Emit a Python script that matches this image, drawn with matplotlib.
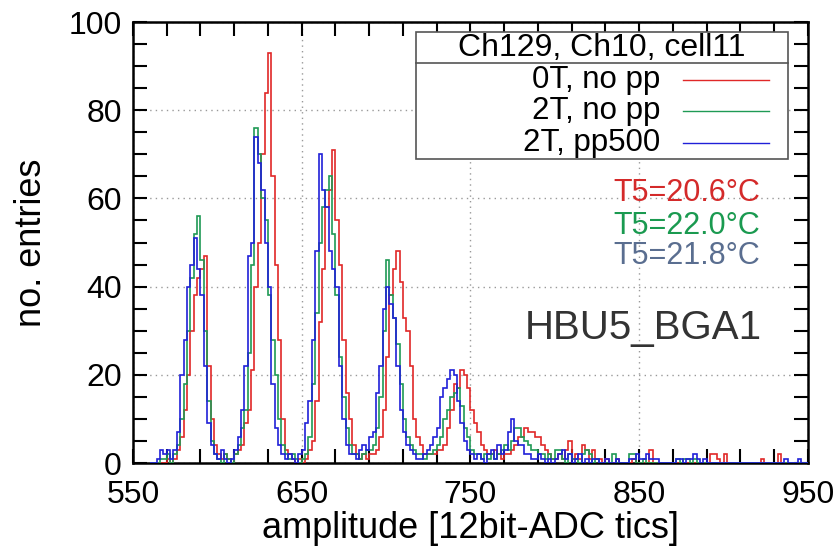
import numpy as np
import matplotlib.pyplot as plt
from matplotlib.ticker import MultipleLocator
from matplotlib.patches import Rectangle

plt.rcParams['font.family'] = ['Liberation Sans', 'DejaVu Sans']

# histogram bins: 2 ADC tics wide, 560 .. 950
edges = np.arange(560, 952, 2)

red_counts = [
    0, 0, 0, 0, 0, 1, 0, 1, 3, 6,            # 560-578
    12, 20, 30, 38, 42, 44, 47, 22, 10, 4,   # 580-598
    2, 1, 2, 1, 0, 2, 3, 4, 9, 12,           # 600-618
    21, 40, 50, 70, 84, 93, 65, 45, 28, 10,  # 620-638
    3, 2, 1, 0, 1, 0, 1, 3, 5, 14,           # 640-658
    32, 44, 58, 62, 71, 55, 45, 28, 16, 10,  # 660-678
    4, 2, 1, 2, 1, 2, 2, 3, 6, 12,           # 680-698
    24, 38, 44, 48, 41, 33, 30, 22, 10, 6,   # 700-718
    4, 2, 2, 2, 2, 3, 3, 4, 8, 12,           # 720-738
    18, 17, 21, 20, 17, 12, 9, 7, 4, 3,      # 740-758
    2, 2, 3, 2, 1, 2, 2, 3, 4, 6,            # 760-778
    6, 8, 7, 7, 6, 6, 4, 3, 2, 1,            # 780-798
    1, 2, 1, 3, 5, 1, 2, 1, 4, 3,            # 800-818
    1, 3, 1, 1, 0, 1, 0, 0, 1, 0,            # 820-838
    0, 0, 0, 1, 0, 0, 0, 0, 3, 0,            # 840-858
    0, 0, 0, 0, 0, 0, 0, 0, 0, 0,            # 860-878
    0, 0, 0, 0, 0, 0, 2, 2, 1, 0,            # 880-898
    2, 0, 0, 0, 0, 0, 0, 0, 0, 0,            # 900-918
    0, 1, 0, 0, 0, 0, 2, 0, 0, 0,            # 920-938
    0, 0, 0, 0, 0,                           # 940-948
]

green_counts = [
    0, 0, 0, 1, 1, 2, 0, 2, 4, 10,
    18, 30, 42, 52, 56, 46, 30, 14, 5, 2,
    1, 0, 2, 1, 0, 2, 4, 8, 12, 25,
    45, 76, 70, 60, 55, 38, 28, 20, 10, 4,
    2, 1, 2, 1, 0, 1, 2, 6, 18, 34,
    50, 58, 62, 65, 52, 38, 24, 15, 8, 4,
    2, 2, 1, 2, 3, 3, 4, 8, 15, 30,
    46, 38, 33, 27, 18, 10, 6, 4, 3, 2,
    2, 1, 2, 2, 3, 4, 6, 10, 12, 15,
    16, 17, 13, 8, 6, 3, 2, 2, 1, 2,
    1, 2, 1, 2, 3, 4, 3, 5, 8, 8,
    6, 5, 4, 3, 3, 2, 2, 1, 2, 1,
    3, 3, 1, 0, 2, 1, 1, 0, 2, 3,
    2, 0, 1, 0, 0, 0, 0, 2, 0, 0,
    0, 0, 2, 2, 0, 0, 1, 0, 0, 0,
    0, 0, 0, 0, 0, 0, 1, 0, 1, 1,
    0, 1, 0, 0, 0, 0, 0, 0, 0, 0,
    0, 0, 0, 0, 0, 0, 0, 0, 0, 0,
    0, 0, 0, 0, 0, 0, 0, 0, 0, 0,
    0, 0, 0, 0, 0,
]

blue_counts = [
    0, 0, 1, 3, 2, 3, 1, 3, 7, 20,
    28, 40, 45, 51, 44, 38, 22, 9, 4, 2,
    1, 3, 1, 0, 1, 3, 6, 12, 22, 47,
    50, 74, 68, 62, 50, 40, 18, 8, 4, 2,
    1, 2, 1, 0, 2, 3, 9, 14, 28, 48,
    70, 62, 58, 48, 44, 40, 22, 10, 4, 2,
    2, 1, 3, 4, 3, 6, 7, 16, 22, 35,
    40, 36, 33, 22, 12, 7, 4, 3, 2, 1,
    1, 2, 3, 4, 6, 8, 15, 17, 19, 21,
    20, 14, 9, 5, 3, 2, 1, 2, 1, 0,
    2, 3, 1, 4, 2, 3, 7, 10, 5, 4,
    4, 2, 2, 1, 1, 2, 1, 0, 1, 0,
    1, 2, 3, 1, 2, 0, 1, 2, 0, 1,
    0, 1, 1, 0, 0, 1, 0, 0, 1, 0,
    0, 0, 1, 1, 2, 1, 1, 2, 1, 1,
    1, 0, 0, 0, 0, 0, 1, 1, 0, 1,
    1, 2, 1, 0, 1, 0, 0, 0, 0, 0,
    0, 0, 0, 0, 0, 0, 0, 0, 0, 0,
    0, 0, 0, 0, 0, 0, 0, 0, 1, 0,
    0, 0, 1, 0, 0,
]

labels = ['0T, no pp', '2T, no pp', '2T, pp500']
temps = ['T5=20.6°C', 'T5=22.0°C', 'T5=21.8°C']
colors = ['#e02828', '#1f9a55', '#2020d8']
temp_colors = ['#d42a2a', '#1a9a50', '#5a6e90']

fig = plt.figure(figsize=(8.38, 5.5), dpi=100)
ax = fig.add_axes([0.1587, 0.158, 0.8055, 0.802])

for counts, c in zip([red_counts, green_counts, blue_counts], colors):
    ax.stairs(counts, edges, color=c, linewidth=1.2, zorder=3)

ax.set_xlim(550, 950)
ax.set_ylim(0, 100)
ax.set_xticks(np.arange(550, 951, 100))
ax.set_xticks(np.arange(550, 951, 20), minor=True)
ax.yaxis.set_major_locator(MultipleLocator(20))
ax.yaxis.set_minor_locator(MultipleLocator(5))
ax.tick_params(which='both', direction='in', top=True, right=True,
               length=10, width=1.5, labelsize=23)
ax.tick_params(axis='x', pad=12)
ax.tick_params(axis='y', pad=8)
for s in ax.spines.values():
    s.set_linewidth(1.8)
ax.grid(True, which='major', linestyle=(0, (1, 3)), color='#999999', linewidth=1)

ax.set_xlabel('amplitude [12bit-ADC tics]', fontsize=26, labelpad=1)
ax.set_ylabel('no. entries', fontsize=26, labelpad=14)

# gnuplot style key
box = Rectangle((0.419, 0.689), 0.551, 0.289, transform=ax.transAxes,
                facecolor='white', edgecolor='#555555', linewidth=1.2, zorder=5)
ax.add_patch(box)
ax.plot([0.419, 0.970], [0.907, 0.907], transform=ax.transAxes,
        color='#555555', linewidth=1.2, zorder=6)
ax.text(0.695, 0.941, 'Ch129, Ch10, cell11', transform=ax.transAxes,
        ha='center', va='center', fontsize=23, zorder=7)
rows = [0.868, 0.799, 0.726]
for lab, c, y in zip(labels, colors, rows):
    ax.text(0.781, y, lab, transform=ax.transAxes, ha='right', va='center',
            fontsize=22.5, zorder=7)
    ax.plot([0.815, 0.942], [y, y], transform=ax.transAxes, color=c,
            linewidth=1.0, zorder=7)

for t, c, y in zip(temps, temp_colors, [0.612, 0.538, 0.470]):
    ax.text(0.929, y, t, transform=ax.transAxes, ha='right', va='center',
            fontsize=22, color=c, zorder=7)

ax.text(0.932, 0.306, 'HBU5_BGA1', transform=ax.transAxes, ha='right',
        va='center', fontsize=29, color='#333333', zorder=7)

fig.savefig('out.png', dpi=100)
